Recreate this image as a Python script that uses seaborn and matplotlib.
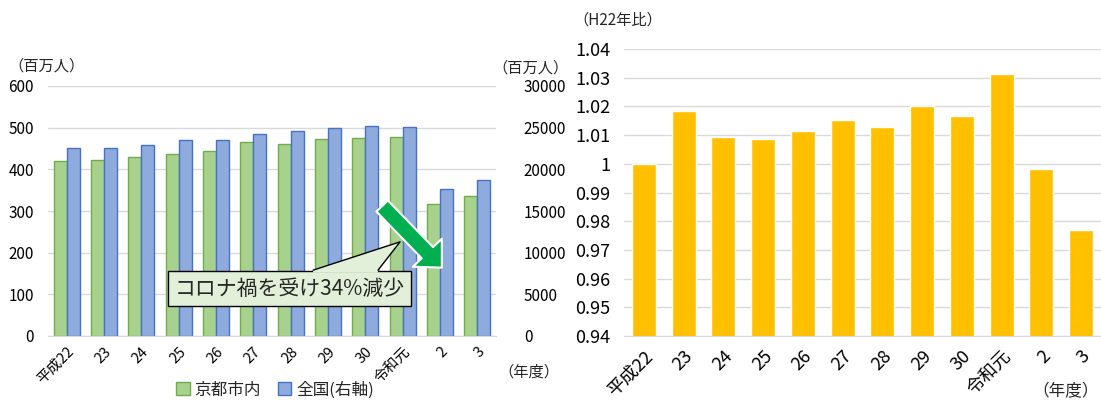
import numpy as np
import pandas as pd
import matplotlib.pyplot as plt
import seaborn as sns
from matplotlib.patches import Patch, Polygon

# Data
years = ["平成22", "23", "24", "25", "26", "27", "28", "29", "30", "令和元", "2", "3"]
kyoto = [419, 422, 429, 438, 444, 466, 460, 474, 475, 477, 316, 337]          # 百万人 (left axis)
zenkoku = [22600, 22560, 22960, 23560, 23560, 24240, 24560, 24920, 25200, 25120, 17640, 18760]  # 百万人 (right axis)
ratio = [1.0000, 1.0183, 1.0093, 1.0086, 1.0114, 1.0154, 1.0129, 1.0200, 1.0165, 1.0312, 0.9982, 0.9768]

series = ["京都市内", "全国(右軸)"]
green, blue = "#A9D18E", "#8FAADC"

sns.set_style("white")
plt.rcParams["font.family"] = ["Noto Sans CJK JP", "DejaVu Sans"]

W, H = 1101, 401
fig = plt.figure(figsize=(W / 100, H / 100), dpi=100)

# both series in each frame; the other axis' series left empty so dodge keeps two slots
nan = [np.nan] * len(years)
df_left = pd.DataFrame({"year": years * 2, "value": kyoto + nan,
                        "series": [series[0]] * len(years) + [series[1]] * len(years)})
df_right = pd.DataFrame({"year": years * 2, "value": nan + zenkoku,
                         "series": [series[0]] * len(years) + [series[1]] * len(years)})

# ---- left chart ----
ax = fig.add_axes([48 / W, 65 / H, 448 / W, 250 / H])
sns.barplot(data=df_left, x="year", y="value", hue="series", hue_order=series, order=years,
            palette=[green, blue], edgecolor="#70AD47", linewidth=1,
            width=0.7, ax=ax, legend=False, saturation=1)
ax.set_ylim(0, 600)
ax.set_yticks(range(0, 601, 100))
ax.yaxis.grid(True, color="#D9D9D9", lw=1)
ax.set_axisbelow(True)

ax2 = ax.twinx()
sns.barplot(data=df_right, x="year", y="value", hue="series", hue_order=series, order=years,
            palette=[green, blue], edgecolor="#4472C4", linewidth=1,
            width=0.7, ax=ax2, legend=False, saturation=1)
ax2.set_ylim(0, 30000)
ax2.set_yticks(range(0, 30001, 5000))
ax.set_xlim(-0.5, len(years) - 0.5)

for a in (ax, ax2):
    a.set_xlabel("")
    a.set_ylabel("")
    for s in ["top", "left", "right"]:
        a.spines[s].set_visible(False)
    a.spines["bottom"].set_color("#D9D9D9")
    a.tick_params(axis="both", length=0, labelsize=11, colors="black")
ax.tick_params(axis="y", pad=10)
ax2.tick_params(axis="y", pad=20)
ax.set_xticks(range(len(years)))
ax.set_xticklabels(years, rotation=45, ha="right", rotation_mode="anchor", fontsize=10.5)
ax.tick_params(axis="x", pad=6)

fig.text(8 / W, 1 - 66 / H, "（百万人）", fontsize=11, va="center", ha="left")
fig.text(492 / W, 1 - 68 / H, "（百万人）", fontsize=11, va="center", ha="left")
fig.text(498 / W, 1 - 372 / H, "（年度）", fontsize=11, va="center", ha="left")

# green arrow
ax2.annotate("", xy=(10.05, 8200), xytext=(8.45, 15600),
             arrowprops=dict(arrowstyle="simple,head_length=1.5,head_width=2.9,tail_width=1.15",
                             fc="#00B050", ec="white", lw=1.5, mutation_scale=10,
                             shrinkA=0, shrinkB=0), zorder=5)

# callout box with pointer
ax2.text(5.97, 5700, "コロナ禍を受け34%減少", ha="center", va="center", fontsize=15, zorder=6,
         bbox=dict(boxstyle="square,pad=0.32", fc="#E2F0D9", ec="black", lw=1))
base_l, base_r, box_top = (6.6, 7900), (8.34, 7900), 7600
tip = (8.93, 11300)
ax2.add_patch(Polygon([(base_l[0], box_top), base_l, tip, base_r, (base_r[0], box_top)],
                      closed=True, fc="#E2F0D9", ec="none", zorder=7))
ax2.plot([base_l[0], tip[0], base_r[0]], [base_l[1], tip[1], base_r[1]],
         color="black", lw=1, zorder=8)

handles = [Patch(fc=green, ec="#70AD47"), Patch(fc=blue, ec="#4472C4")]
fig.legend(handles, series, loc="center", bbox_to_anchor=(275 / W, 1 - 390 / H), ncol=2,
           frameon=False, fontsize=12, handlelength=0.8, handleheight=0.8,
           handletextpad=0.3, columnspacing=1.0)

# ---- right chart ----
axr = fig.add_axes([624 / W, 65 / H, 477 / W, 287 / H])
sns.barplot(x=years, y=ratio, color="#FFC000", width=0.6, ax=axr, saturation=1)
axr.set_ylim(0.94, 1.04)
ticks = [0.94 + 0.01 * i for i in range(11)]
axr.set_yticks(ticks)
axr.set_yticklabels([f"{t:.2f}".rstrip("0").rstrip(".") for t in ticks])
axr.yaxis.grid(True, color="#D9D9D9", lw=1)
axr.set_axisbelow(True)
for s in ["top", "left", "right"]:
    axr.spines[s].set_visible(False)
axr.spines["bottom"].set_color("#D9D9D9")
axr.tick_params(axis="both", length=0, labelsize=13, colors="black")
axr.tick_params(axis="y", pad=10)
axr.set_xticks(range(len(years)))
axr.set_xticklabels(years, rotation=45, ha="right", rotation_mode="anchor", fontsize=13)
axr.tick_params(axis="x", pad=8)

fig.text(573 / W, 1 - 20 / H, "（H22年比）", fontsize=11, va="center", ha="left")
fig.text(1032 / W, 1 - 392 / H, "（年度）", fontsize=12, va="center", ha="left")

fig.savefig("out.png", dpi=100)
